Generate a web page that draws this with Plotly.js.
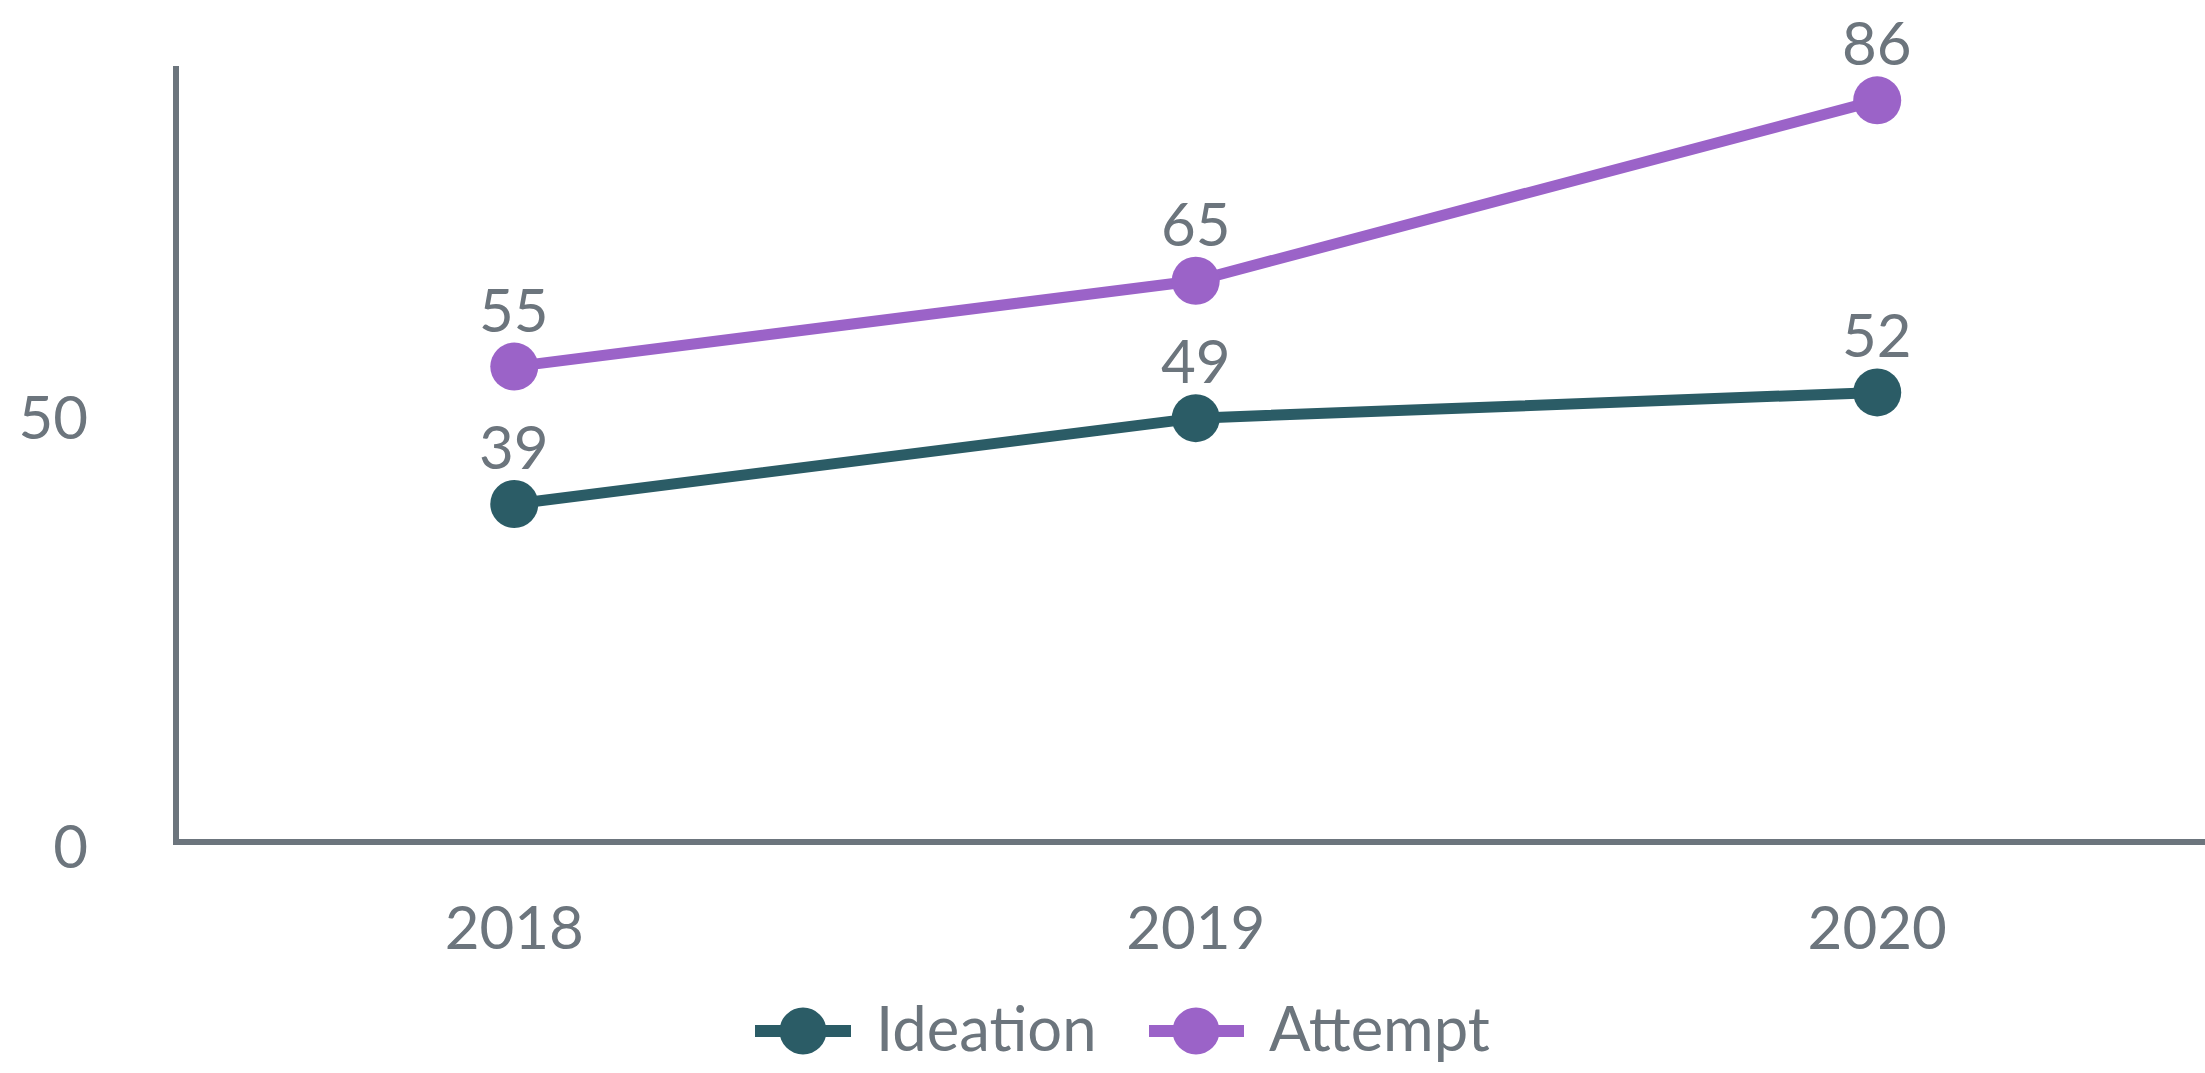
<!DOCTYPE html>
<html>
<head>
<meta charset="utf-8">
<script src="https://cdn.plot.ly/plotly-3.0.1.min.js"></script>
<style>html,body{margin:0;padding:0;background:#fff;}#chart{width:2205px;height:1073px;}</style>
</head>
<body>
<div id="chart"></div>
<script>
const years = ['2018', '2019', '2020'];
const ideation = [39, 49, 52];
const attempt = [55, 65, 86];
const seriesNames = ['Ideation', 'Attempt'];
const seriesColors = ['#2b5c66', '#9b63c8'];
const yTicks = [0, 50];

const gray = '#6c757d';
const font = 'Lato, "Open Sans", sans-serif';

function trace(name, values, color) {
  return {
    type: 'scatter', mode: 'lines+markers', name: name,
    x: years, y: values,
    line: {color: color, width: 11},
    marker: {color: color, size: 48},
    cliponaxis: false, showlegend: false, hoverinfo: 'skip'
  };
}

const data = [trace(seriesNames[0], ideation, seriesColors[0]), trace(seriesNames[1], attempt, seriesColors[1])];

const L = 179, R = 2205, B = 839;
const W = R - L, H = 773;
const px = v => (v - L) / W;
const py = v => (B - v) / H;
const legY = py(1031);
const legTextY = py(1027);
const legendItems = [
  {x0: 755, x1: 851, c: 803, t: 875},
  {x0: 1149, x1: 1244, c: 1196, t: 1268}
];
const shapes = [];
const annotations = [];
legendItems.forEach((it, i) => {
  shapes.push({type: 'line', xref: 'paper', yref: 'paper', x0: px(it.x0), x1: px(it.x1), y0: legY, y1: legY,
    line: {color: seriesColors[i], width: 12}});
  shapes.push({type: 'circle', xref: 'paper', yref: 'paper', xsizemode: 'pixel', ysizemode: 'pixel',
    xanchor: px(it.c), yanchor: legY, x0: -23.5, x1: 23.5, y0: -23.5, y1: 23.5,
    fillcolor: seriesColors[i], line: {width: 0}});
  annotations.push({xref: 'paper', yref: 'paper', x: px(it.t), y: legTextY, xanchor: 'left', yanchor: 'middle',
    text: seriesNames[i], showarrow: false, font: {family: font, size: 61.5, color: gray}, borderpad: 0});
});

// value labels above each point, placed through the data axes (category index)
[ideation, attempt].forEach(vals => {
  vals.forEach((v, j) => {
    annotations.push({xref: 'x', yref: 'y', x: j, y: v, yshift: 58, xanchor: 'center', yanchor: 'middle',
      text: String(v), showarrow: false, font: {family: font, size: 60, color: gray}, borderpad: 0});
  });
});

const layout = {
  width: 2205, height: 1073,
  margin: {l: L, r: 0, t: B - H, b: 1073 - B},
  paper_bgcolor: '#fff', plot_bgcolor: '#fff',
  font: {family: font, color: gray, size: 60},
  showlegend: false,
  xaxis: {
    type: 'category', range: [-0.492, 2.481],
    showgrid: false, zeroline: false, showline: true, linecolor: gray, linewidth: 6,
    ticks: '', tickfont: {family: font, size: 60, color: gray}, ticklabelstandoff: 32,
    fixedrange: true
  },
  yaxis: {
    range: [0, 90], tickvals: yTicks, ticktext: yTicks.map(String),
    showgrid: false, zeroline: false, showline: true, linecolor: gray, linewidth: 6,
    ticks: '', tickfont: {family: font, size: 60, color: gray}, ticklabelstandoff: 73, ticklabelshift: 8,
    fixedrange: true
  },
  shapes: shapes,
  annotations: annotations
};

Plotly.newPlot('chart', data, layout, {displayModeBar: false, staticPlot: true});
</script>
</body>
</html>
